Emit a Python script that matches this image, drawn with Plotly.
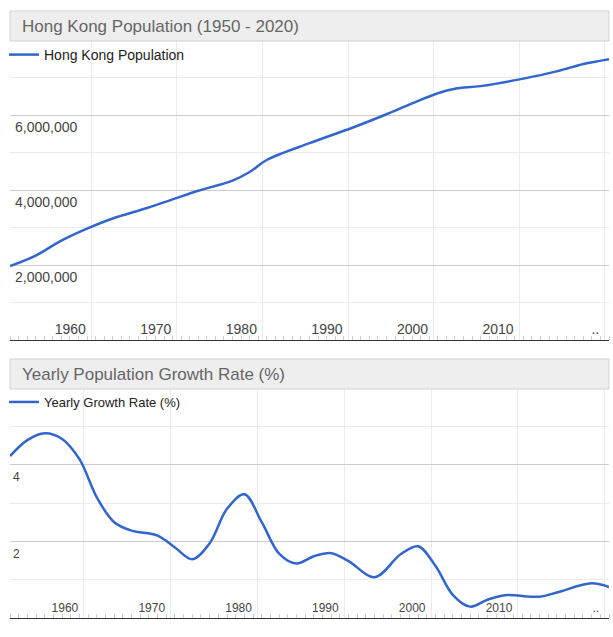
import plotly.graph_objects as go

# ---------------- data ----------------
pop_years = [1950, 1953, 1956, 1959, 1962, 1966, 1969, 1972, 1976, 1978, 1980,
             1985, 1990, 1994, 1997, 2000, 2002, 2005, 2010, 2014, 2017, 2020]
pop_values = [1.97e6, 2.25e6, 2.65e6, 2.97e6, 3.24e6, 3.52e6, 3.75e6, 3.98e6, 4.25e6, 4.48e6,
              4.80e6, 5.25e6, 5.66e6, 6.02e6, 6.31e6, 6.58e6, 6.70e6, 6.77e6,
              6.97e6, 7.17e6, 7.36e6, 7.49e6]

growth_years = [1951, 1953, 1955, 1957, 1959, 1961, 1963, 1965, 1968, 1970, 1972, 1974,
                1976, 1978, 1980, 1982, 1984, 1986, 1988, 1990, 1993, 1996, 1998, 2000,
                2002, 2004, 2006, 2008, 2012, 2014, 2018, 2020]
growth_values = [4.23, 4.65, 4.83, 4.68, 4.15, 3.15, 2.50, 2.28, 2.15, 1.84, 1.53, 1.95,
                 2.85, 3.23, 2.50, 1.68, 1.42, 1.61, 1.69, 1.48, 1.06, 1.66, 1.87, 1.36,
                 0.60, 0.29, 0.47, 0.59, 0.55, 0.66, 0.90, 0.80]

decade_ticks = [1960, 1970, 1980, 1990, 2000, 2010, 2020]
decade_labels = ["1960", "1970", "1980", "1990", "2000", "2010", ".."]

pop_ticks = [2e6, 4e6, 6e6]
pop_labels = ["2,000,000", "4,000,000", "6,000,000"]
growth_ticks = [2, 4]
growth_labels = ["2", "4"]

title_top = "Hong Kong Population (1950 - 2020)"
title_bottom = "Yearly Population Growth Rate (%)"
series_top = "Hong Kong Population"
series_bottom = "Yearly Growth Rate (%)"

# ---------------- layout helpers ----------------
W, H = 613, 637
FONT = "Arial, 'Liberation Sans', sans-serif"
LINE = "#3366cc"


def px_x(p):
    return p / W


def px_y(p):
    return 1 - p / H


fig = go.Figure()
fig.add_trace(go.Scatter(x=pop_years, y=pop_values, mode="lines", name=series_top,
                         line=dict(color=LINE, width=2.5, shape="spline", smoothing=1.0),
                         xaxis="x", yaxis="y", legend="legend", hoverinfo="skip"))
fig.add_trace(go.Scatter(x=growth_years, y=growth_values, mode="lines", name=series_bottom,
                         line=dict(color=LINE, width=2.5, shape="spline", smoothing=1.0),
                         xaxis="x2", yaxis="y2", legend="legend2", hoverinfo="skip"))

xdom = [px_x(10), px_x(609)]


def xaxis_cfg(rng, size, anchor):
    return dict(domain=xdom, range=rng, anchor=anchor,
                tickmode="array", tickvals=[t - 0.5 for t in decade_ticks], ticktext=decade_labels,
                ticklabelposition="inside left", ticklabeloverflow="allow", ticklabelshift=-5,
                ticks="", showgrid=True, gridcolor="#ebebeb",
                gridwidth=1, showline=True, linecolor="#333333", linewidth=1, zeroline=False,
                tickfont=dict(family=FONT, size=size, color="#444444"),
                minor=dict(ticks="inside", ticklen=4, tickcolor="#cccccc", dtick=1,
                           tick0=rng[0], showgrid=False),
                fixedrange=True)


def yaxis_cfg(dom, rng, tv, tt, dminor, size, anchor, standoff):
    return dict(domain=dom, range=rng, anchor=anchor, tickmode="array", tickvals=tv, ticktext=tt,
                ticklabelposition="inside", ticklabelshift=12, ticklabeloverflow="allow",
                ticklabelstandoff=standoff,
                ticks="", showgrid=True,
                gridcolor="#cccccc", gridwidth=1, zeroline=False, showline=False,
                tickfont=dict(family=FONT, size=size, color="#444444"),
                minor=dict(dtick=dminor, tick0=0, showgrid=True, gridcolor="#ebebeb", ticks=""),
                fixedrange=True)


fig.update_layout(
    width=W, height=H, margin=dict(l=0, r=0, t=0, b=0),
    paper_bgcolor="white", plot_bgcolor="white",
    font=dict(family=FONT, color="#222222"),
    xaxis=xaxis_cfg([1950, 2020], 14, "y"),
    yaxis=yaxis_cfg([px_y(340), px_y(40)], [0, 8e6], pop_ticks, pop_labels, 1e6, 14, "x", 2),
    xaxis2=xaxis_cfg([1951, 2020], 12, "y2"),
    yaxis2=yaxis_cfg([px_y(617.7), px_y(388.5)], [0, 6], growth_ticks, growth_labels, 1, 12,
                     "x2", 0),
    legend=dict(x=px_x(4), y=px_y(55), xanchor="left", yanchor="middle",
                bgcolor="rgba(0,0,0,0)", font=dict(family=FONT, size=14, color="#222222")),
    legend2=dict(x=px_x(4), y=px_y(402), xanchor="left", yanchor="middle",
                 bgcolor="rgba(0,0,0,0)", font=dict(family=FONT, size=13, color="#222222")),
    showlegend=True,
)

for (y0, y1, text) in [(11, 41, title_top), (359, 389, title_bottom)]:
    fig.add_shape(type="rect", xref="paper", yref="paper", layer="above",
                  x0=px_x(10), x1=px_x(609), y0=px_y(y1), y1=px_y(y0),
                  fillcolor="#eeeeee", line=dict(color="#d3d3d3", width=1))
    fig.add_annotation(xref="paper", yref="paper", x=px_x(20), y=px_y((y0 + y1) / 2),
                       xanchor="left", yanchor="middle", showarrow=False, text=text,
                       font=dict(family=FONT, size=17, color="#666666"))

fig.write_html("out.html", config={"displayModeBar": False},
               post_script="document.body.style.margin='0';document.body.style.overflow='hidden';")
